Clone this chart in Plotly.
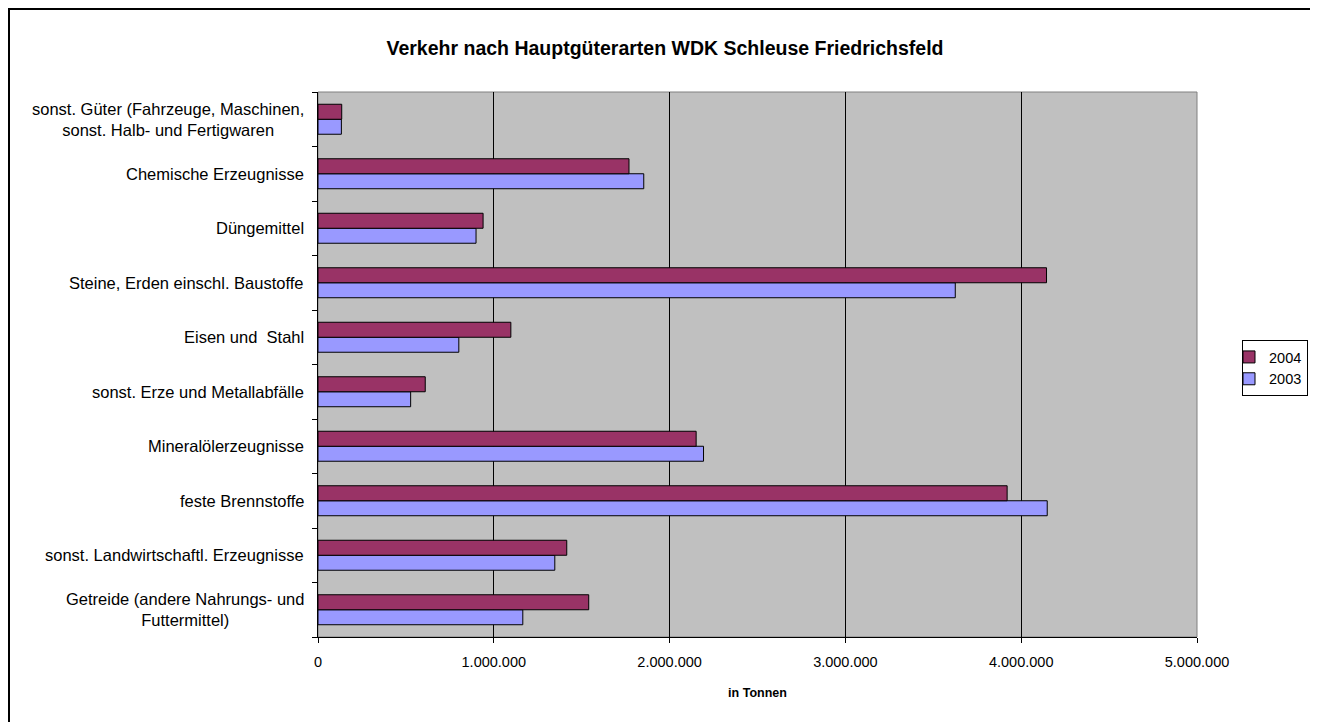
import plotly.graph_objects as go

categories = [
    "Getreide (andere Nahrungs- und<br>Futtermittel)",
    "sonst. Landwirtschaftl. Erzeugnisse",
    "feste Brennstoffe",
    "Mineralölerzeugnisse",
    "sonst. Erze und Metallabfälle",
    "Eisen und  Stahl",
    "Steine, Erden einschl. Baustoffe",
    "Düngemittel",
    "Chemische Erzeugnisse",
    "sonst. Güter (Fahrzeuge, Maschinen,<br>sonst. Halb- und Fertigwaren",
]
values_2003 = [1165000, 1347000, 4148000, 2193000, 527000, 801000, 3625000, 899000, 1853000, 133000]
values_2004 = [1540000, 1415000, 3920000, 2151000, 610000, 1097000, 4144000, 939000, 1769000, 135000]

tick_vals = [0, 1000000, 2000000, 3000000, 4000000, 5000000]
tick_text = ["0", "1.000.000", "2.000.000", "3.000.000", "4.000.000", "5.000.000"]

W, H = 1310, 714          # page body has an 8px margin
L, R, T, B = 310, 121, 84, 85
PW, PH = W - L - R, H - T - B

fig = go.Figure()
fig.add_trace(go.Bar(y=categories, x=values_2003, orientation="h", name="2003",
                     marker=dict(color="#9999FF", line=dict(color="#000000", width=1))))
fig.add_trace(go.Bar(y=categories, x=values_2004, orientation="h", name="2004",
                     marker=dict(color="#993366", line=dict(color="#000000", width=1))))

# category labels (centred lines, right-aligned block like the original)
label_annotations = [
    dict(text=c, x=-12 / PW, xref="paper", xanchor="right", y=c, yref="y",
         yanchor="middle", align="center", showarrow=False,
         font=dict(size=16.5, color="#000000"))
    for c in categories
]

fig.update_layout(
    width=W, height=H,
    paper_bgcolor="white", plot_bgcolor="#C0C0C0",
    font=dict(family="Liberation Sans, Arial, sans-serif", size=14, color="#000000"),
    margin=dict(l=L, r=R, t=T, b=B, autoexpand=False),
    barmode="group", bargap=0.45, bargroupgap=0,
    title=dict(text="<b>Verkehr nach Hauptgüterarten WDK Schleuse Friedrichsfeld</b>",
               x=(665 - 8) / W, xref="container", xanchor="center",
               y=1 - 40 / H, yref="container", yanchor="middle",
               font=dict(size=19.5)),
    legend=dict(traceorder="reversed", x=(1242 - 8 - L) / PW, xref="paper", xanchor="left",
                y=1 - (340 - 8 - T) / PH, yref="paper", yanchor="top",
                bordercolor="#000000", borderwidth=1, bgcolor="white",
                font=dict(size=14.5), itemwidth=30, indentation=-14, tracegroupgap=0),
    showlegend=True,
    annotations=label_annotations,
    shapes=[dict(type="rect", xref="paper", yref="paper",
                 x0=-(L - 1) / PW, x1=1 + (R + 20) / PW,
                 y0=-(B + 20) / PH, y1=1 + (T - 1) / PH,
                 line=dict(color="#000000", width=2), fillcolor="rgba(0,0,0,0)", layer="below"),
            dict(type="rect", xref="paper", yref="paper", x0=0, x1=1, y0=0, y1=1,
                 line=dict(color="#808080", width=1), fillcolor="rgba(0,0,0,0)", layer="below")],
)

fig.update_xaxes(
    range=[0, 5000000], tickvals=tick_vals, ticktext=tick_text,
    showgrid=True, gridcolor="#000000", gridwidth=1,
    showline=True, linecolor="#000000", linewidth=1, mirror=False,
    ticks="outside", ticklen=5, tickcolor="#000000",
    zeroline=False, tickfont=dict(size=14.5), ticklabelstandoff=7,
    title=dict(text="<b>in Tonnen</b>", font=dict(size=12.5), standoff=18),
)
fig.update_yaxes(
    type="category", showgrid=False, showline=True, linecolor="#000000", linewidth=1,
    ticks="outside", ticklen=5, tickcolor="#000000", tickson="boundaries",
    showticklabels=False,
)

fig.write_html("out.html")
